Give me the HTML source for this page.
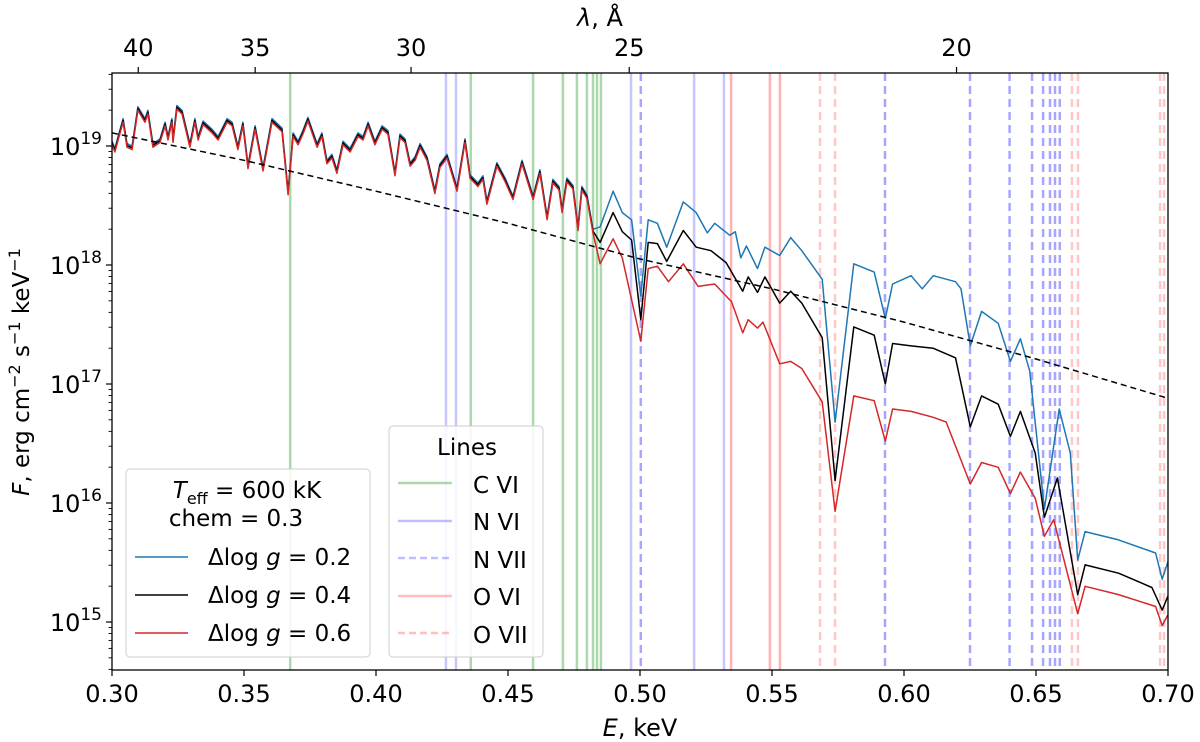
<!DOCTYPE html>
<html><head><meta charset="utf-8"><style>
html,body{margin:0;padding:0;background:#fff;}
svg{display:block;font-family:"DejaVu Sans","Liberation Sans",sans-serif;}
</style></head><body>
<svg id="chart" width="1200" height="742" viewBox="0 0 1200 742">
<defs><clipPath id="plotclip"><rect x="112" y="73" width="1056" height="597"/></clipPath></defs>
<g id="lines-layer" clip-path="url(#plotclip)"></g>
<g id="series-layer" clip-path="url(#plotclip)"></g>
<g id="axes-layer"></g>
<rect x="112" y="73" width="1056" height="597" fill="none" stroke="#000" stroke-width="1.3"/>
<text x="640" y="736" font-size="24" text-anchor="middle"><tspan font-style="italic">E</tspan>, keV</text>
<text x="600" y="26" font-size="24" text-anchor="middle"><tspan font-style="italic">λ</tspan>, Å</text>
<text transform="translate(29,372) rotate(-90)" font-size="23" text-anchor="middle"><tspan font-style="italic">F</tspan>, erg cm<tspan dy="-9" font-size="16">−2</tspan><tspan dy="9"> s</tspan><tspan dy="-9" font-size="16">−1</tspan><tspan dy="9"> keV</tspan><tspan dy="-9" font-size="16">−1</tspan></text>
<g>
<rect x="126" y="469" width="244" height="188" rx="4" fill="#fff" fill-opacity="0.85" stroke="#ccc"/>
<text x="247" y="498" font-size="23" text-anchor="middle"><tspan font-style="italic">T</tspan><tspan font-size="16" dy="6">eff</tspan><tspan dy="-6"> = 600 kK</tspan></text>
<text x="236" y="526" font-size="23" text-anchor="middle">chem = 0.3</text>
<line x1="135" y1="557" x2="188" y2="557" stroke="#1f77b4" stroke-width="1.5"/>
<text x="208" y="565" font-size="23">Δlog <tspan font-style="italic">g</tspan> = 0.2</text>
<line x1="135" y1="595" x2="188" y2="595" stroke="#000" stroke-width="1.5"/>
<text x="208" y="603" font-size="23">Δlog <tspan font-style="italic">g</tspan> = 0.4</text>
<line x1="135" y1="633" x2="188" y2="633" stroke="#d62728" stroke-width="1.5"/>
<text x="208" y="641" font-size="23">Δlog <tspan font-style="italic">g</tspan> = 0.6</text>
</g>
<g>
<rect x="389" y="426" width="154" height="231" rx="4" fill="#fff" fill-opacity="0.85" stroke="#ccc"/>
<text x="467" y="455" font-size="23" text-anchor="middle">Lines</text>
<line x1="398" y1="483" x2="452" y2="483" stroke="#2ca02c" stroke-opacity="0.4" stroke-width="2.5"/>
<text x="473" y="493" font-size="23">C VI</text>
<line x1="398" y1="521" x2="452" y2="521" stroke="#0000ff" stroke-opacity="0.25" stroke-width="2.5"/>
<text x="473" y="530" font-size="23">N VI</text>
<line x1="398" y1="558" x2="452" y2="558" stroke="#0000ff" stroke-opacity="0.25" stroke-width="2.5" stroke-dasharray="7,4"/>
<text x="473" y="568" font-size="23">N VII</text>
<line x1="398" y1="596" x2="452" y2="596" stroke="#ff0000" stroke-opacity="0.25" stroke-width="2.5"/>
<text x="473" y="605" font-size="23">O VI</text>
<line x1="398" y1="633" x2="452" y2="633" stroke="#ff0000" stroke-opacity="0.25" stroke-width="2.5" stroke-dasharray="7,4"/>
<text x="473" y="643" font-size="23">O VII</text>
</g>
</svg>
<script>
const xTicks = [0.30,0.35,0.40,0.45,0.50,0.55,0.60,0.65,0.70];
const xTickLabels = ["0.30","0.35","0.40","0.45","0.50","0.55","0.60","0.65","0.70"];
const lambdaTicks = [40,35,30,25,20];
const yDecades = [15,16,17,18,19];
const lineCVI = [0.3675,0.4359,0.4595,0.4708,0.4761,0.4799,0.4822,0.4837,0.4852];
const lineNVI = [0.4265,0.4303,0.4966,0.5205,0.5318];
const lineNVII = [0.5003,0.5928,0.6250,0.6400,0.6485,0.6527,0.6553,0.6572,0.6590];
const lineOVI = [0.5345,0.5492,0.5530];
const lineOVII = [0.5682,0.5739,0.6636,0.6659,0.6970,0.6985];
const leftE = [0.3000,0.3011,0.3023,0.3042,0.3057,0.3076,0.3098,0.3125,0.3136,0.3155,0.3182,0.3201,0.3212,0.3227,0.3231,0.3246,0.3265,0.3295,0.3314,0.3326,0.3345,0.3379,0.3402,0.3436,0.3455,0.3477,0.3496,0.3515,0.3542,0.3572,0.3606,0.3644,0.3667,0.3686,0.3705,0.3723,0.3742,0.3777,0.3795,0.3814,0.3833,0.3852,0.3875,0.3902,0.3932,0.3951,0.3970,0.3996,0.4023,0.4045,0.4072,0.4091,0.4110,0.4129,0.4148,0.4167,0.4193,0.4223,0.4242,0.4269,0.4307,0.4337,0.4356,0.4386,0.4405,0.4420,0.4458,0.4489,0.4519,0.4553,0.4595,0.4621,0.4648,0.4670,0.4693,0.4705,0.4723,0.4746,0.4765,0.4780,0.4799,0.4822];
const leftLog = [19.01,18.95,19.05,19.20,18.99,18.97,19.30,19.20,19.27,18.99,19.03,19.17,19.05,19.20,19.03,19.31,19.27,18.99,19.20,19.05,19.18,19.11,19.05,19.20,19.17,18.97,19.17,18.81,19.14,18.79,19.20,19.12,18.59,19.08,19.01,19.10,19.21,18.99,19.08,18.85,18.90,18.77,19.01,18.95,19.08,19.05,19.17,19.01,19.14,19.10,18.75,19.07,19.03,18.83,18.88,18.99,18.88,18.60,18.82,18.90,18.62,19.03,18.73,18.66,18.72,18.51,18.83,18.70,18.55,18.85,18.55,18.77,18.38,18.69,18.63,18.44,18.70,18.64,18.29,18.63,18.56,18.27];
const blueE = [0.4849,0.4898,0.4933,0.4968,0.5003,0.5031,0.5066,0.5101,0.5164,0.5213,0.5255,0.5283,0.5340,0.5361,0.5382,0.5403,0.5445,0.5473,0.5529,0.5571,0.5613,0.5690,0.5739,0.5810,0.5887,0.5929,0.5957,0.6027,0.6069,0.6111,0.6195,0.6216,0.6251,0.6294,0.6357,0.6403,0.6441,0.6476,0.6532,0.6588,0.6630,0.6658,0.6686,0.6813,0.6953,0.6978,0.7002];
const blueLog = [18.32,18.62,18.44,18.38,17.74,18.38,18.35,18.15,18.53,18.44,18.27,18.35,18.25,18.28,18.06,18.16,17.97,18.15,18.08,18.23,18.12,17.88,16.68,18.01,17.94,17.55,17.84,17.91,17.80,17.91,17.86,17.80,17.32,17.61,17.51,17.19,17.38,17.11,15.95,16.79,16.42,15.52,15.76,15.69,15.58,15.36,15.52];
const blackE = [0.4849,0.4898,0.4933,0.4968,0.5003,0.5031,0.5066,0.5101,0.5164,0.5213,0.5269,0.5326,0.5389,0.5410,0.5445,0.5473,0.5529,0.5571,0.5613,0.5690,0.5739,0.5810,0.5887,0.5929,0.5957,0.6027,0.6111,0.6195,0.6251,0.6294,0.6357,0.6403,0.6441,0.6497,0.6532,0.6581,0.6658,0.6686,0.6813,0.6939,0.6978,0.7002];
const blackLog = [18.19,18.44,18.28,18.21,17.54,18.19,18.18,18.03,18.29,18.15,18.12,18.02,17.78,17.90,17.77,17.90,17.68,17.78,17.68,17.39,16.19,17.48,17.41,17.00,17.34,17.32,17.30,17.22,16.64,16.90,16.83,16.56,16.77,16.42,15.88,16.21,15.23,15.48,15.41,15.29,15.10,15.23];
const redE = [0.4849,0.4898,0.4933,0.5003,0.5031,0.5066,0.5108,0.5164,0.5220,0.5283,0.5347,0.5389,0.5410,0.5445,0.5466,0.5529,0.5571,0.5613,0.5690,0.5739,0.5810,0.5887,0.5929,0.5957,0.6027,0.6111,0.6160,0.6251,0.6294,0.6357,0.6403,0.6441,0.6497,0.6532,0.6567,0.6658,0.6686,0.6813,0.6953,0.6978,0.7002];
const redLog = [18.01,18.22,18.06,17.36,17.97,17.99,17.86,18.01,17.82,17.84,17.69,17.43,17.54,17.47,17.52,17.17,17.19,17.13,16.85,15.93,16.90,16.86,16.52,16.79,16.77,16.72,16.68,16.16,16.34,16.30,16.08,16.26,16.04,15.72,15.86,15.07,15.30,15.23,15.13,14.97,15.07];
const blueLeftOffset = 0.03;
const blackLeftOffset = 0.015;
const refE = [0.30,0.35,0.40,0.45,0.50,0.55,0.60,0.65,0.70];
const refLog = [19.11,18.88,18.62,18.35,18.05,17.80,17.52,17.21,16.88];

const X0=112,X1=1168,Y0=73,Y1=670;
const sx = e => X0 + (e-0.30)/(0.70-0.30)*(X1-X0);
const Y19=146, DEC=119;
const sy = l => Y19 + (19-l)*DEC;
const NS="http://www.w3.org/2000/svg";
function mk(tag, attrs, parent){const el=document.createElementNS(NS,tag);for(const k in attrs)el.setAttribute(k,attrs[k]);parent.appendChild(el);return el;}
const linesG=document.getElementById('lines-layer');
const seriesG=document.getElementById('series-layer');
const axesG=document.getElementById('axes-layer');

function vlines(arr,color,op,dash,name){
  arr.forEach(e=>{
    const l=mk('line',{x1:sx(e),x2:sx(e),y1:Y0,y2:Y1,stroke:color,'stroke-opacity':op,'stroke-width':2.5},linesG);
    if(dash) l.setAttribute('stroke-dasharray','8,5');
    
    
  });
}
vlines(lineCVI,'#2ca02c',0.4,false,'line-c-vi');
vlines(lineNVI,'#0000ff',0.22,false,'line-n-vi');
vlines(lineNVII,'#0000ff',0.35,true,'line-n-vii');
vlines(lineOVI,'#ff0000',0.3,false,'line-o-vi');
vlines(lineOVII,'#ff0000',0.22,true,'line-o-vii');

function poly(E,L,color,name,w,dash){
  const pts=E.map((e,i)=>sx(e).toFixed(1)+','+sy(L[i]).toFixed(1)).join(' ');
  const p=mk('polyline',{points:pts,fill:'none',stroke:color,'stroke-width':w,'stroke-linejoin':'round'},seriesG);
  if(dash)p.setAttribute('stroke-dasharray',dash);
  
  
}
const blueAllE=leftE.concat(blueE), blueAllL=leftLog.map(v=>v+blueLeftOffset).concat(blueLog);
const blackAllE=leftE.concat(blackE), blackAllL=leftLog.map(v=>v+blackLeftOffset).concat(blackLog);
const redAllE=leftE.concat(redE), redAllL=leftLog.concat(redLog);
poly(blueAllE,blueAllL,'#1f77b4','series-dlogg-0.2',1.5);
poly(blackAllE,blackAllL,'#000','series-dlogg-0.4',1.5);
poly(redAllE,redAllL,'#d62728','series-dlogg-0.6',1.5);
poly(refE,refLog,'#000','blackbody-reference',1.5,'6,4');

xTicks.forEach((t,i)=>{
  const x=sx(t);
  const tk=mk('line',{x1:x,x2:x,y1:Y1,y2:Y1+6,stroke:'#000','stroke-width':1.2},axesG);
  
  
  const tx=mk('text',{x:x,y:Y1+32,'font-size':24,'text-anchor':'middle'},axesG);
  tx.textContent=xTickLabels[i];
  
  
});
lambdaTicks.forEach(l=>{
  const x=sx(12.398/l);
  const tk=mk('line',{x1:x,x2:x,y1:Y0,y2:Y0-6,stroke:'#000','stroke-width':1.2},axesG);
  
  
  const tx=mk('text',{x:x,y:Y0-17,'font-size':24,'text-anchor':'middle'},axesG);
  tx.textContent=String(l);
  
  
});
for(let d=14; d<=19; d++){
  for(let m=1;m<=9;m++){
    const l=d+Math.log10(m);
    const y=sy(l);
    if(y<Y0||y>Y1) continue;
    const major=(m===1);
    const tk=mk('line',{x1:X0,x2:X0-(major?6:3.5),y1:y,y2:y,stroke:'#000','stroke-width':major?1.2:0.9},axesG);
    
    
  }
}
yDecades.forEach(d=>{
  const y=sy(d);
  const tx=mk('text',{x:X0-10,y:y+9,'font-size':24,'text-anchor':'end'},axesG);
  tx.innerHTML='10<tspan dy="-11" font-size="17">'+d+'</tspan>';
  
  
});
</script>
</body></html>
